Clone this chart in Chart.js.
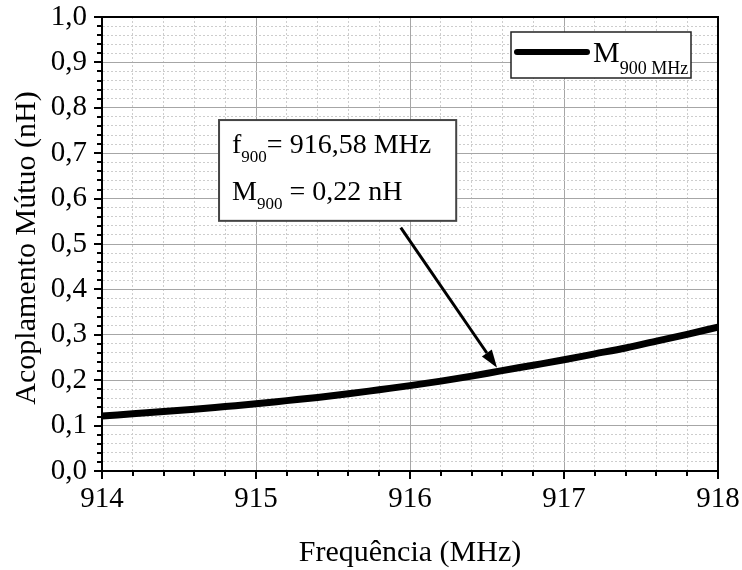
<!DOCTYPE html>
<html>
<head>
<meta charset="utf-8">
<script src="https://cdn.jsdelivr.net/npm/chart.js@4.4.1/dist/chart.umd.min.js"></script>
<style>
  html, body { margin: 0; padding: 0; background: #fff; }
  #wrap { width: 742px; height: 570px; }
</style>
</head>
<body>
<div id="wrap"><canvas id="mutualChart" width="742" height="570"></canvas></div>
<script>
// frequency sweep (MHz) and mutual coupling (nH)
const freqMHz = [914.0, 914.2, 914.4, 914.6, 914.8, 915.0, 915.2, 915.4, 915.6, 915.8,
                 916.0, 916.2, 916.4, 916.58, 916.8, 917.0, 917.2, 917.4, 917.6, 917.8, 918.0];
const couplingNH = [0.121, 0.126, 0.131, 0.136, 0.142, 0.148, 0.155, 0.162, 0.170, 0.179,
                    0.188, 0.198, 0.209, 0.220, 0.233, 0.245, 0.258, 0.271, 0.286, 0.301, 0.317];

// marked point
const markFreq = 916.58;
const markCoupling = 0.22;

const xTicks = [914, 915, 916, 917, 918];
const yTicks = [0, 0.1, 0.2, 0.3, 0.4, 0.5, 0.6, 0.7, 0.8, 0.9, 1.0];

const SERIF = "'Liberation Serif', 'Times New Roman', serif";

const isMajorX = v => Math.abs(v - Math.round(v)) < 1e-6;
const isMajorY = v => Math.abs(v * 10 - Math.round(v * 10)) < 1e-6;

// text with optional subscripts, parts = [{t, sub}]
function drawRich(ctx, x, y, parts, size, subSize, subDrop) {
    let cx = x;
    parts.forEach(p => {
        ctx.font = (p.sub ? subSize : size) + 'px ' + SERIF;
        ctx.fillText(p.t, cx, p.sub ? y + subDrop : y);
        cx += ctx.measureText(p.t).width;
    });
}

const decorPlugin = {
    id: 'decor',
    afterDatasetsDraw(chart) {
        const { ctx, chartArea: a, scales: { x, y } } = chart;
        ctx.save();

        // frame
        ctx.strokeStyle = '#000';
        ctx.lineWidth = 2;
        ctx.strokeRect(a.left, a.top, a.right - a.left, a.bottom - a.top);

        // outward tick marks
        ctx.lineWidth = 2;
        ctx.beginPath();
        x.ticks.forEach(t => {
            const px = Math.round(x.getPixelForValue(t.value));
            const len = isMajorX(t.value) ? 8 : 5;
            ctx.moveTo(px, a.bottom);
            ctx.lineTo(px, a.bottom + len);
        });
        y.ticks.forEach(t => {
            const py = Math.round(y.getPixelForValue(t.value));
            const len = isMajorY(t.value) ? 8 : 5;
            ctx.moveTo(a.left, py);
            ctx.lineTo(a.left - len, py);
        });
        ctx.stroke();

        // axis titles
        ctx.fillStyle = '#000';
        ctx.font = '30px ' + SERIF;
        ctx.textAlign = 'center';
        ctx.textBaseline = 'alphabetic';
        ctx.fillText('Frequência (MHz)', (a.left + a.right) / 2, 561);
        ctx.save();
        ctx.translate(35, (a.top + a.bottom) / 2 + 4);
        ctx.rotate(-Math.PI / 2);
        ctx.fillText('Acoplamento Mútuo (nH)', 0, 0);
        ctx.restore();

        // legend
        ctx.textAlign = 'left';
        const lx = 511, ly = 32;
        ctx.fillStyle = '#fff';
        ctx.fillRect(lx, ly, 180, 46);
        ctx.strokeStyle = '#222';
        ctx.lineWidth = 1.5;
        ctx.strokeRect(lx, ly, 180, 46);
        ctx.strokeStyle = '#000';
        ctx.lineWidth = 6;
        ctx.lineCap = 'round';
        ctx.beginPath();
        ctx.moveTo(lx + 6, ly + 20);
        ctx.lineTo(lx + 76, ly + 20);
        ctx.stroke();
        ctx.lineCap = 'butt';
        ctx.fillStyle = '#000';
        drawRich(ctx, lx + 82, ly + 30, [{ t: 'M' }, { t: '900 MHz', sub: true }], 30, 18, 12);

        // annotation box
        const bx0 = x.getPixelForValue(914.76), bx1 = x.getPixelForValue(916.30);
        const by0 = y.getPixelForValue(0.773), by1 = y.getPixelForValue(0.551);
        ctx.fillStyle = '#fff';
        ctx.fillRect(bx0, by0, bx1 - bx0, by1 - by0);
        ctx.strokeStyle = '#444';
        ctx.lineWidth = 2;
        ctx.strokeRect(bx0, by0, bx1 - bx0, by1 - by0);
        ctx.fillStyle = '#000';
        drawRich(ctx, bx0 + 13, by0 + 33,
            [{ t: 'f' }, { t: '900', sub: true }, { t: '= ' + String(markFreq).replace('.', ',') + ' MHz' }], 28, 17, 9);
        drawRich(ctx, bx0 + 13, by0 + 80,
            [{ t: 'M' }, { t: '900', sub: true }, { t: ' = ' + markCoupling.toFixed(2).replace('.', ',') + ' nH' }], 28, 17, 9);

        // arrow to the marked point
        const tx = x.getPixelForValue(915.94), ty = y.getPixelForValue(0.536);
        let hx = x.getPixelForValue(markFreq), hy = y.getPixelForValue(markCoupling);
        const ang = Math.atan2(hy - ty, hx - tx);
        hx -= Math.cos(ang) * 4;
        hy -= Math.sin(ang) * 4;
        const headLen = 18, headW = 6;
        const bxh = hx - Math.cos(ang) * headLen, byh = hy - Math.sin(ang) * headLen;
        ctx.strokeStyle = '#000';
        ctx.lineWidth = 3;
        ctx.beginPath();
        ctx.moveTo(tx, ty);
        ctx.lineTo(bxh, byh);
        ctx.stroke();
        ctx.beginPath();
        ctx.moveTo(hx, hy);
        ctx.lineTo(bxh + Math.sin(ang) * headW, byh - Math.cos(ang) * headW);
        ctx.lineTo(bxh - Math.sin(ang) * headW, byh + Math.cos(ang) * headW);
        ctx.closePath();
        ctx.fill();

        ctx.restore();
    }
};

new Chart(document.getElementById('mutualChart'), {
    type: 'line',
    data: {
        datasets: [{
            label: 'M900 MHz',
            data: freqMHz.map((f, i) => ({ x: f, y: couplingNH[i] })),
            borderColor: '#000',
            borderWidth: 7,
            pointRadius: 0,
            cubicInterpolationMode: 'monotone',
            clip: 0
        }]
    },
    options: {
        responsive: false,
        devicePixelRatio: 1,
        animation: false,
        layout: { padding: { left: 0, right: 24, top: 17, bottom: 0 } },
        plugins: {
            legend: { display: false },
            tooltip: { enabled: false }
        },
        scales: {
            x: {
                type: 'linear',
                min: xTicks[0],
                max: xTicks[xTicks.length - 1],
                afterFit: s => {
                    s.height = 99;
                    s.paddingLeft = 0;
                    s.paddingRight = 0;
                },
                ticks: {
                    stepSize: 0.2,
                    autoSkip: false,
                    maxRotation: 0,
                    padding: 14,
                    color: '#000',
                    font: { family: SERIF, size: 29, lineHeight: 1 },
                    callback: v => isMajorX(v) ? String(Math.round(v)) : ''
                },
                grid: {
                    drawTicks: false,
                    color: c => c.tick && isMajorX(c.tick.value) ? '#a6a6a6' : '#cdcdcd',
                    lineWidth: 1
                },
                border: {
                    color: '#000',
                    width: 2,
                    dash: c => c.tick && !isMajorX(c.tick.value) ? [2, 2] : []
                }
            },
            y: {
                min: yTicks[0],
                max: yTicks[yTicks.length - 1],
                afterFit: s => {
                    s.width = 102;
                    s.paddingTop = 0;
                    s.paddingBottom = 0;
                },
                ticks: {
                    stepSize: 0.02,
                    autoSkip: false,
                    padding: 15,
                    color: '#000',
                    font: { family: SERIF, size: 29, lineHeight: 1 },
                    callback: v => isMajorY(v) ? (Math.round(v * 10) / 10).toFixed(1).replace('.', ',') : ''
                },
                grid: {
                    drawTicks: false,
                    color: c => c.tick && isMajorY(c.tick.value) ? '#a6a6a6' : '#cdcdcd',
                    lineWidth: 1
                },
                border: {
                    color: '#000',
                    width: 2,
                    dash: c => c.tick && !isMajorY(c.tick.value) ? [2, 2] : []
                }
            }
        }
    },
    plugins: [decorPlugin]
});
</script>
</body>
</html>
